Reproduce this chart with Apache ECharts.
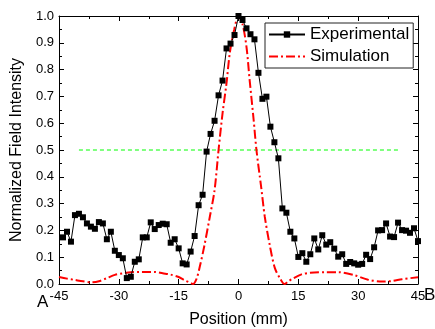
<!DOCTYPE html>
<html>
<head>
<meta charset="utf-8">
<script src="https://cdn.jsdelivr.net/npm/echarts@6/dist/echarts.min.js"></script>
<style>
  html, body { margin: 0; padding: 0; background: #fff; }
  #chart { width: 435px; height: 329px; }
</style>
</head>
<body>
<div id="chart"></div>
<script>
// measured profile, 1 mm steps
var expPos = [-44, -43, -42, -41, -40, -39, -38, -37, -36, -35, -34, -33, -32, -31, -30,
  -29, -28, -27, -26, -25, -24, -23, -22, -21, -20, -19, -18, -17, -16, -15,
  -14, -13, -12, -11, -10, -9, -8, -7, -6, -5, -4, -3, -2, -1, 0,
  1, 2, 3, 4, 5, 6, 7, 8, 9, 10, 11, 12, 13, 14, 15,
  16, 17, 18, 19, 20, 21, 22, 23, 24, 25, 26, 27, 28, 29, 30,
  31, 32, 33, 34, 35, 36, 37, 38, 39, 40, 41, 42, 43, 44, 45];
var expVal = [0.174, 0.195, 0.158, 0.257, 0.262, 0.249, 0.226, 0.214, 0.206, 0.231, 0.226, 0.167, 0.195, 0.124, 0.108,
  0.096, 0.022, 0.027, 0.083, 0.092, 0.174, 0.174, 0.230, 0.205, 0.220, 0.225, 0.223, 0.154, 0.167, 0.133,
  0.077, 0.073, 0.121, 0.179, 0.294, 0.333, 0.494, 0.560, 0.609, 0.704, 0.759, 0.879, 0.897, 0.929, 1.000,
  0.985, 0.954, 0.932, 0.913, 0.788, 0.691, 0.699, 0.587, 0.529, 0.469, 0.282, 0.266, 0.195, 0.170, 0.101,
  0.115, 0.083, 0.111, 0.170, 0.129, 0.182, 0.147, 0.156, 0.132, 0.102, 0.111, 0.075, 0.082, 0.077, 0.072,
  0.075, 0.109, 0.093, 0.137, 0.200, 0.201, 0.226, 0.177, 0.175, 0.229, 0.201, 0.199, 0.191, 0.208, 0.160];

// simulated profile
var simPos = [-45, -43, -41, -39, -37, -35, -33, -31, -29, -27, -25, -23, -21, -19, -17, -15, -13.5, -12, -11.4,
  -10.5, -9.7, -8.6, -7.2, -6, -5, -4, -3, -2.2, -1.1, 0, 1, 2, 2.8, 3.8, 4.5, 5.7, 6.6, 7.9, 9.1, 10.4, 11.5,
  12.5, 13.7, 15.8, 18, 22, 25, 29, 32.5, 36, 38.5, 41, 45];
var simVal = [0.026, 0.020, 0.015, 0.010, 0.006, 0.010, 0.022, 0.034, 0.040, 0.044, 0.045, 0.045, 0.045, 0.040, 0.035, 0.026, 0.014, 0.004, 0.000,
  0.020, 0.065, 0.140, 0.250, 0.350, 0.500, 0.637, 0.750, 0.860, 0.948, 1.000, 0.970, 0.885, 0.760, 0.612, 0.500, 0.360, 0.250, 0.140, 0.060, 0.021, 0.000,
  0.010, 0.021, 0.036, 0.042, 0.044, 0.044, 0.033, 0.016, 0.009, 0.011, 0.018, 0.025];

// half-maximum reference
var halfPos = [-40, 40];
var halfVal = [0.5, 0.5];

var xTicks = { min: -45, max: 45, interval: 15 };
var yTicks = { min: 0, max: 1, interval: 0.1 };

function pairs(xs, ys) {
  var out = [];
  for (var i = 0; i < xs.length; i++) out.push([xs[i], ys[i]]);
  return out;
}

var myChart = echarts.init(document.getElementById("chart"));

var tickLine = { color: "#000", width: 1 };
function xAx(pos, showLabels) {
  return {
    type: "value", position: pos, min: xTicks.min, max: xTicks.max, interval: xTicks.interval,
    axisLine: { onZero: false, lineStyle: tickLine },
    axisTick: { inside: true, length: 5, lineStyle: tickLine },
    minorTick: { show: true, splitNumber: 2, length: 3, lineStyle: tickLine },
    splitLine: { show: false }, minorSplitLine: { show: false },
    axisLabel: { show: showLabels, fontSize: 13, color: "#000", margin: 6 },
    name: showLabels ? "Position (mm)" : "", nameLocation: "middle", nameGap: 28,
    nameTextStyle: { fontSize: 16, color: "#000" }
  };
}
function yAx(pos, showLabels) {
  return {
    type: "value", position: pos, min: yTicks.min, max: yTicks.max, interval: yTicks.interval,
    axisLine: { show: true, onZero: false, lineStyle: tickLine },
    axisTick: { show: true, inside: true, length: 5, lineStyle: tickLine },
    minorTick: { show: true, splitNumber: 2, length: 3, lineStyle: tickLine },
    splitLine: { show: false }, minorSplitLine: { show: false },
    axisLabel: { show: showLabels, fontSize: 13, color: "#000", margin: 5,
      formatter: function (v) { return v.toFixed(1); } },
    name: showLabels ? "Normalized Field Intensity" : "", nameLocation: "middle", nameGap: 34,
    nameTextStyle: { fontSize: 16, color: "#000" }
  };
}

var option = {
  animation: false,
  textStyle: { fontFamily: "Liberation Sans, Arial, sans-serif" },
  grid: { left: 59, right: 17, top: 16, bottom: 45, containLabel: false, outerBoundsMode: "none" },
  legend: {
    data: [
      { name: "Experimental" },
      { name: "Simulation", itemStyle: { opacity: 0 } }
    ],
    orient: "vertical", left: 265, top: 23,
    padding: [3, 4, 3, 3], itemGap: 5, itemWidth: 36, itemHeight: 8,
    borderColor: "#222", borderWidth: 1,
    textStyle: { fontSize: 17, color: "#000" }
  },
  xAxis: [xAx("bottom", true), xAx("top", false)],
  yAxis: [yAx("left", true), yAx("right", false)],
  graphic: [
    { type: "text", left: 37, top: 294, style: { text: "A", fontSize: 17, fill: "#000" } },
    { type: "text", left: 424, top: 287, style: { text: "B", fontSize: 17, fill: "#000" } }
  ],
  series: [
    {
      name: "half", type: "line", data: pairs(halfPos, halfVal), symbol: "none",
      lineStyle: { color: "#00ff00", width: 1, type: [4, 3] }, z: 1
    },
    {
      name: "Simulation", type: "line", data: pairs(simPos, simVal), smooth: 0.3, symbol: "none",
      lineStyle: { color: "#ff0000", width: 2, type: [9, 3, 2, 3] },
      itemStyle: { color: "#ff0000" }, z: 2
    },
    {
      name: "Experimental", type: "line", data: pairs(expPos, expVal),
      symbol: "rect", symbolSize: 6, showAllSymbol: true,
      lineStyle: { color: "#000", width: 1 },
      itemStyle: { color: "#000" }, z: 3
    }
  ]
};

myChart.setOption(option);
</script>
</body>
</html>
